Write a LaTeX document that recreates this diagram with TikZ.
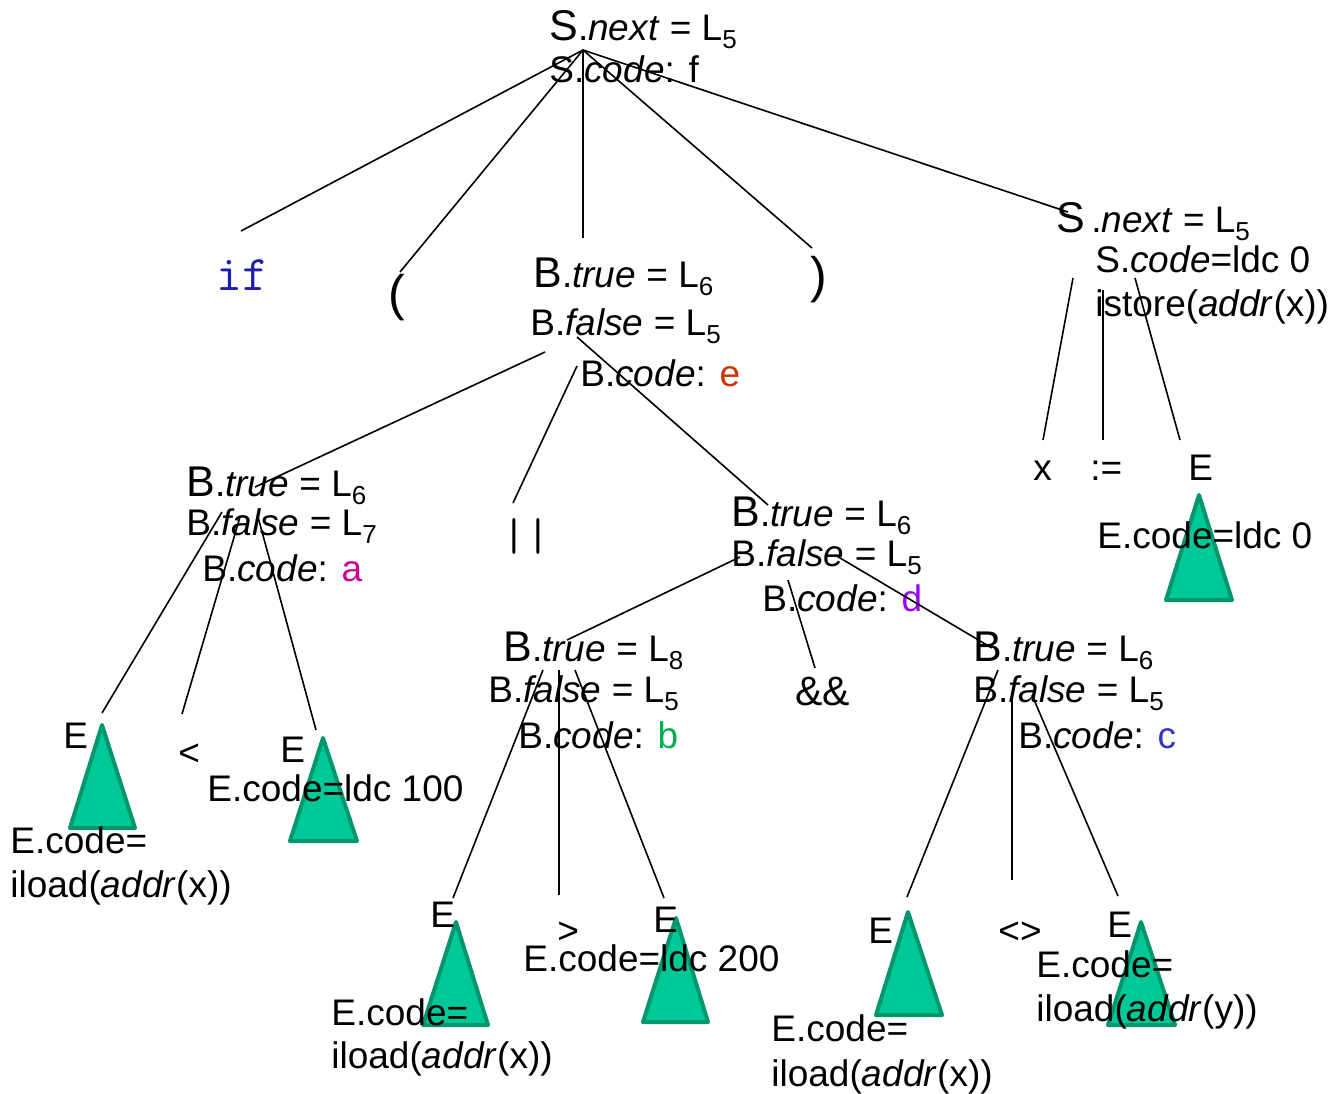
\documentclass[tikz,border=0pt]{standalone}
\usepackage{fontspec}
\setmainfont{Liberation Sans}

\definecolor{kwblue}{RGB}{30,30,170}
\definecolor{ccode}{RGB}{204,51,0}
\definecolor{acode}{RGB}{204,0,153}
\definecolor{dcode}{RGB}{153,0,255}
\definecolor{bcode}{RGB}{0,176,80}
\definecolor{cblue}{RGB}{51,51,204}
\definecolor{trifill}{RGB}{0,200,150}
\definecolor{triedge}{RGB}{0,150,110}

\newcommand{\nsz}{\fontsize{18.5}{22}\selectfont}
\newcommand{\firstch}[1]{{\fontsize{21.5}{22}\selectfont #1}}
\newcommand{\lsub}[1]{\raisebox{-0.45ex}{\fontsize{13}{13}\selectfont #1}}

\tikzset{
    txt/.style={anchor=base west, inner sep=0pt, font=\nsz},
    tri/.style={fill=trifill, draw=triedge, line width=2pt, line join=round},
    br/.style={line width=0.8pt}
}

\begin{document}
\begin{tikzpicture}[x=0.5pt,y=-0.5pt]
            \useasboundingbox (0,0) rectangle (1330,1094);

            \draw[tri] (102,725) -- (70,828) -- (135,828) -- cycle;
            \draw[tri] (323,738) -- (290,841) -- (357,841) -- cycle;
            \draw[tri] (456,922) -- (423,1025) -- (488,1025) -- cycle;
            \draw[tri] (676,918) -- (643,1022) -- (708,1022) -- cycle;
            \draw[tri] (908,912) -- (876,1015) -- (942,1015) -- cycle;
            \draw[tri] (1141,922) -- (1108,1025) -- (1175,1025) -- cycle;
            \draw[tri] (1199,495) -- (1166,600) -- (1232,600) -- cycle;

            \node[txt] (sNext) at (549,40) {\firstch{S}.\textit{next} = L\lsub{5}};
            \node[txt] (sCode) at (549,82) {S.\textit{code}: f};

            \node[txt, font=\fontsize{25}{26}\ttfamily, text=kwblue] (kwIf) at (216,290) {if};
            \node[txt, font=\fontsize{25}{26}\selectfont] (lpar) at (388,310) {(};
            \node[txt, font=\fontsize{25}{26}\selectfont] (rpar) at (810,292) {)};

            \node[txt] (eTrue) at (533,287) {\firstch{B}.\textit{true} = L\lsub{6}};
            \node[txt] (eFalse) at (530,335) {B.\textit{false} = L\lsub{5}};
            \node[txt] (eCode) at (580,386) {B.\textit{code}: \textcolor{ccode}{e}};

            \node[txt] (asNext) at (1056,232) {\firstch{S}\,.\textit{next} = L\lsub{5}};
            \node[txt] (asCode) at (1095,272) {S.\textit{code}=ldc 0};
            \node[txt] (asStore) at (1095,316) {istore(\textit{addr}(x))};

            \node[txt] (aTrue) at (186,496) {\firstch{B}.\textit{true} = L\lsub{6}};
            \node[txt] (aFalse) at (186,535) {B.\textit{false} = L\lsub{7}};
            \node[txt] (aCode) at (202,581) {B.\textit{code}: \textcolor{acode}{a}};

            \node[txt, font=\fontsize{23}{24}\ttfamily] (orOp) at (502,550) {||};

            \node[txt] (dTrue) at (731,526) {\firstch{B}.\textit{true} = L\lsub{6}};
            \node[txt] (dFalse) at (731,566) {B.\textit{false} = L\lsub{5}};
            \node[txt] (dCode) at (762,611) {B.\textit{code}: \textcolor{dcode}{d}};

            \node[txt] (bTrue) at (503,661) {\firstch{B}.\textit{true} = L\lsub{8}};
            \node[txt] (bFalse) at (488,702) {B.\textit{false} = L\lsub{5}};
            \node[txt] (bCode) at (518,748) {B.\textit{code}: \textcolor{bcode}{b}};

            \node[txt, font=\fontsize{20.5}{22}\selectfont] (andOp) at (795,705) {\&\&};

            \node[txt] (cTrue) at (973,661) {\firstch{B}.\textit{true} = L\lsub{6}};
            \node[txt] (cFalse) at (973,702) {B.\textit{false} = L\lsub{5}};
            \node[txt] (cCode) at (1018,748) {B.\textit{code}: \textcolor{cblue}{c}};

            \node[txt] (xId) at (1033,480) {x};
            \node[txt] (assign) at (1090,480) {:=};
            \node[txt] (asE) at (1188,480) {E};
            \node[txt] (asECode) at (1097,548) {E.code=ldc 0};

            \node[txt] (aE1) at (63,748) {E};
            \node[txt] (ltOp) at (178,765) {<};
            \node[txt] (aE2) at (280,762) {E};
            \node[txt] (aE2Code) at (207,801) {E.code=ldc 100};
            \node[txt] (aE1Code) at (10,853) {E.code=};
            \node[txt] (aE1Load) at (10,897) {iload(\textit{addr}(x))};

            \node[txt] (bE1) at (430,927) {E};
            \node[txt] (gtOp) at (557,943) {>};
            \node[txt] (bE2) at (653,932) {E};
            \node[txt] (bE2Code) at (523,971) {E.code=ldc 200};
            \node[txt] (bE1Code) at (331,1025) {E.code=};
            \node[txt] (bE1Load) at (331,1068) {iload(\textit{addr}(x))};

            \node[txt] (cE1) at (868,943) {E};
            \node[txt] (neOp) at (998,943) {<>};
            \node[txt] (cE2) at (1107,937) {E};
            \node[txt] (cE2Code) at (1036,977) {E.code=};
            \node[txt] (cE2Load) at (1036,1021) {iload(\textit{addr}(y))};
            \node[txt] (cE1Code) at (771,1041) {E.code=};
            \node[txt] (cE1Load) at (771,1086) {iload(\textit{addr}(x))};

            \coordinate (sRoot) at (583,50);
            \coordinate (toIf) at (241,231);
            \coordinate (toLpar) at (400,272);
            \coordinate (toE) at (583,238);
            \coordinate (toRpar) at (812,248);
            \coordinate (toAs) at (1068,212);
            \draw[br] (sRoot) -- (toIf);
            \draw[br] (sRoot) -- (toLpar);
            \draw[br] (sRoot) -- (toE);
            \draw[br] (sRoot) -- (toRpar);
            \draw[br] (sRoot) -- (toAs);

            \coordinate (eL) at (545,352);
            \coordinate (eM) at (577,366);
            \coordinate (eR) at (577,337);
            \coordinate (toA) at (255,487);
            \coordinate (toOr) at (513,503);
            \coordinate (toD) at (768,505);
            \draw[br] (eL) -- (toA);
            \draw[br] (eM) -- (toOr);
            \draw[br] (eR) -- (toD);

            \coordinate (aL) at (222,512);
            \coordinate (aM) at (240,517);
            \coordinate (aR) at (258,517);
            \coordinate (toAE1) at (102,713);
            \coordinate (toLt) at (182,714);
            \coordinate (toAE2) at (316,730);
            \draw[br] (aL) -- (toAE1);
            \draw[br] (aM) -- (toLt);
            \draw[br] (aR) -- (toAE2);

            \coordinate (dL) at (740,557);
            \coordinate (dM) at (788,580);
            \coordinate (dR) at (835,555);
            \coordinate (toB) at (567,640);
            \coordinate (toAnd) at (815,668);
            \coordinate (toC) at (992,648);
            \draw[br] (dL) -- (toB);
            \draw[br] (dM) -- (toAnd);
            \draw[br] (dR) -- (toC);

            \coordinate (bL) at (543,670);
            \coordinate (bM) at (559,670);
            \coordinate (bR) at (575,670);
            \coordinate (toBE1) at (453,898);
            \coordinate (toGt) at (559,895);
            \coordinate (toBE2) at (664,898);
            \draw[br] (bL) -- (toBE1);
            \draw[br] (bM) -- (toGt);
            \draw[br] (bR) -- (toBE2);

            \coordinate (cL) at (998,670);
            \coordinate (cM) at (1012,695);
            \coordinate (cR) at (1032,695);
            \coordinate (toCE1) at (907,897);
            \coordinate (toNe) at (1012,880);
            \coordinate (toCE2) at (1118,896);
            \draw[br] (cL) -- (toCE1);
            \draw[br] (cM) -- (toNe);
            \draw[br] (cR) -- (toCE2);

            \coordinate (asL) at (1073,278);
            \coordinate (asM) at (1103,290);
            \coordinate (asR) at (1135,278);
            \coordinate (toX) at (1043,440);
            \coordinate (toAssign) at (1103,440);
            \coordinate (toAsE) at (1180,440);
            \draw[br] (asL) -- (toX);
            \draw[br] (asM) -- (toAssign);
            \draw[br] (asR) -- (toAsE);
        \end{tikzpicture}
\end{document}
